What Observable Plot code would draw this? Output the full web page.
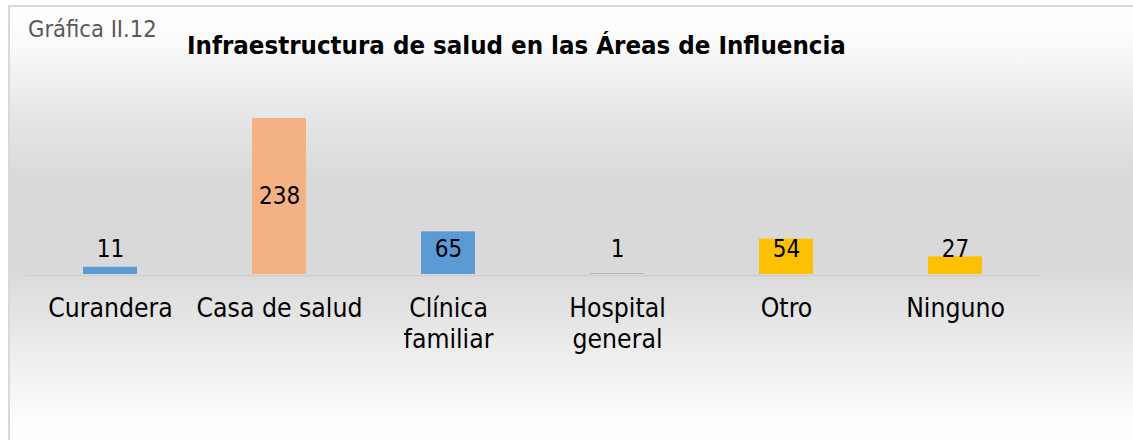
<!DOCTYPE html>
<html>
<head>
<meta charset="utf-8">
<script src="https://cdn.jsdelivr.net/npm/d3@7"></script>
<script src="https://cdn.jsdelivr.net/npm/@observablehq/plot@0.6"></script>
<style>
  html, body { margin: 0; padding: 0; background: #fff; }
  #wrap { position: relative; width: 1133px; height: 440px; overflow: hidden; background: #fff;
          font-family: "DejaVu Sans Condensed", "DejaVu Sans", sans-serif; font-stretch: condensed; }
  #panel { position: absolute; left: 8px; top: 5px; right: 0; bottom: 0;
           border-top: 2px solid #d9d9d9; border-left: 2px solid #d9d9d9;
           background: linear-gradient(to bottom, #ffffff 0%, #fbfbfb 8%, #e6e6e6 25%, #d9d9d9 40%, #d9d9d9 60%, #e8e8e8 75%, #fcfcfc 95%, #ffffff 100%); }
  #label { position: absolute; left: 28px; top: 15px; font-size: 23.5px; color: #595959; line-height: 1.2; }
  #title { position: absolute; left: 187px; top: 30px; font-size: 25.6px; font-weight: bold; color: #000; line-height: 1.2; }
  #chart { position: absolute; left: 0; top: 0; }
  #chart svg { background: transparent; }
</style>
</head>
<body>
<div id="wrap">
  <div id="panel"></div>
  <div id="label">Gráfica II.12</div>
  <div id="title">Infraestructura de salud en las Áreas de Influencia</div>
  <div id="chart"></div>
</div>
<script>
const categories = ["Curandera", "Casa de salud", "Clínica familiar", "Hospital general", "Otro", "Ninguno"];
const tickLabels = ["Curandera", "Casa de salud", "Clínica\nfamiliar", "Hospital\ngeneral", "Otro", "Ninguno"];
const values = [11, 238, 65, 1, 54, 27];
const colors = ["#5b9bd5", "#f4b183", "#5b9bd5", "#a5a5a5", "#ffc000", "#ffc000"];

const data = categories.map((c, i) => ({category: c, value: values[i], color: colors[i], tick: tickLabels[i]}));
const font = "'DejaVu Sans Condensed', 'DejaVu Sans', sans-serif";

const chart = Plot.plot({
  width: 1133,
  height: 440,
  marginTop: 118,
  marginBottom: 166,
  marginLeft: 24.5,
  marginRight: 93,
  style: {background: "transparent", fontFamily: font, fontStretch: "condensed"},
  x: {domain: categories, paddingInner: 0.68, paddingOuter: 0.34, axis: null},
  y: {domain: [0, 238], axis: null},
  marks: [
    Plot.ruleY([0], {stroke: "#cfcfcf", strokeWidth: 1.5, dy: 1}),
    Plot.barY(data, {x: "category", y: "value", fill: "color"}),
    Plot.text(data, {x: "category", y: d => Math.max(d.value / 2, 38), text: d => String(d.value),
      fontSize: 24, fill: "#000", textAnchor: "middle", lineAnchor: "middle"}),
    Plot.text(data, {x: "category", y: 0, text: "tick", dy: 20, lineAnchor: "top", lineHeight: 1.2,
      fontSize: 26.3, fill: "#000", textAnchor: "middle"})
  ]
});
document.getElementById("chart").appendChild(chart);
</script>
</body>
</html>
